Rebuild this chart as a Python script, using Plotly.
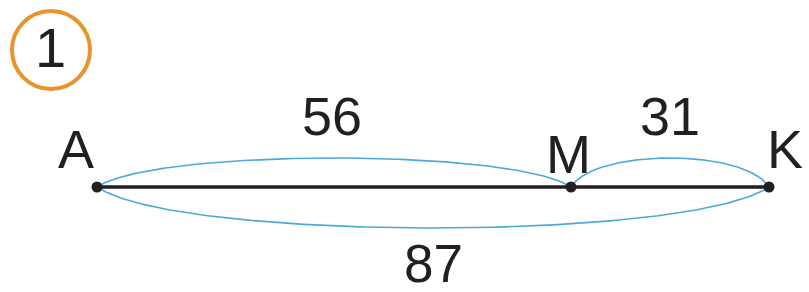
import numpy as np
import plotly.graph_objects as go

# --- data ---
point_names = ["A", "M", "K"]
point_x = [97, 571, 769]
line_y = 187
segment_lengths = ["56", "31", "87"]
segment_from = [0, 1, 0]
segment_to = [1, 2, 2]
segment_side = [-1, -1, 1]          # -1 = arc above, 1 = arc below
arc_heights = [29, 29, 41]
task_number = "1"

INK = "#231f20"
BLUE = "#4ea9d6"
ORANGE = "#e8942c"
FONT = "Liberation Sans, Arial, sans-serif"


def bezier_arc(x0, x1, y, h, side):
    L = x1 - x0
    c = h / 0.75
    p = np.array([[x0, y], [x0 + 0.12 * L, y + side * c],
                  [x1 - 0.12 * L, y + side * c], [x1, y]])
    t = np.linspace(0, 1, 200)[:, None]
    pts = ((1 - t) ** 3) * p[0] + 3 * ((1 - t) ** 2) * t * p[1] + 3 * (1 - t) * t ** 2 * p[2] + t ** 3 * p[3]
    return pts[:, 0], pts[:, 1]


fig = go.Figure()

for i in range(len(segment_lengths)):
    xs, ys = bezier_arc(point_x[segment_from[i]], point_x[segment_to[i]], line_y,
                        arc_heights[i], segment_side[i])
    fig.add_trace(go.Scatter(x=xs, y=ys, mode="lines",
                             line=dict(color=BLUE, width=1.6), hoverinfo="skip"))

fig.add_trace(go.Scatter(x=[point_x[0], point_x[-1]], y=[line_y, line_y], mode="lines",
                         line=dict(color=INK, width=3.5), hoverinfo="skip"))
fig.add_trace(go.Scatter(x=point_x, y=[line_y] * len(point_x), mode="markers",
                         marker=dict(color=INK, size=11), hoverinfo="skip"))

# point names
name_dx = [-21, -3, 16]
name_dy = [-38, -33, -38]
for n, x, dx, dy in zip(point_names, point_x, name_dx, name_dy):
    fig.add_annotation(x=x + dx, y=line_y + dy, text=n, showarrow=False,
                       font=dict(family=FONT, size=54, color=INK),
                       xanchor="center", yanchor="middle")

# segment labels
for i, lab in enumerate(segment_lengths):
    x0 = point_x[segment_from[i]]
    x1 = point_x[segment_to[i]]
    if segment_side[i] < 0:
        yy = line_y - arc_heights[i] - 42
    else:
        yy = line_y + arc_heights[i] + 35
    fig.add_annotation(x=(x0 + x1) / 2 + (0 if i != 0 else -2), y=yy, text=lab, showarrow=False,
                       font=dict(family=FONT, size=54 if i < 2 else 53, color=INK),
                       xanchor="center", yanchor="middle")

# task number badge
fig.add_shape(type="circle", x0=12, x1=90, y0=11, y1=89,
              line=dict(color=ORANGE, width=4))
fig.add_annotation(x=50, y=47, text=task_number, showarrow=False,
                   font=dict(family=FONT, size=56, color=INK),
                   xanchor="center", yanchor="middle")

fig.update_layout(width=809, height=292, margin=dict(l=0, r=0, t=0, b=0),
                  paper_bgcolor="white", plot_bgcolor="white", showlegend=False,
                  xaxis=dict(range=[0, 809], visible=False, fixedrange=True),
                  yaxis=dict(range=[292, 0], visible=False, fixedrange=True))

fig.write_html("out.html", config={"displayModeBar": False},
               post_script="document.body.style.margin='0px';document.body.style.overflow='hidden';")
